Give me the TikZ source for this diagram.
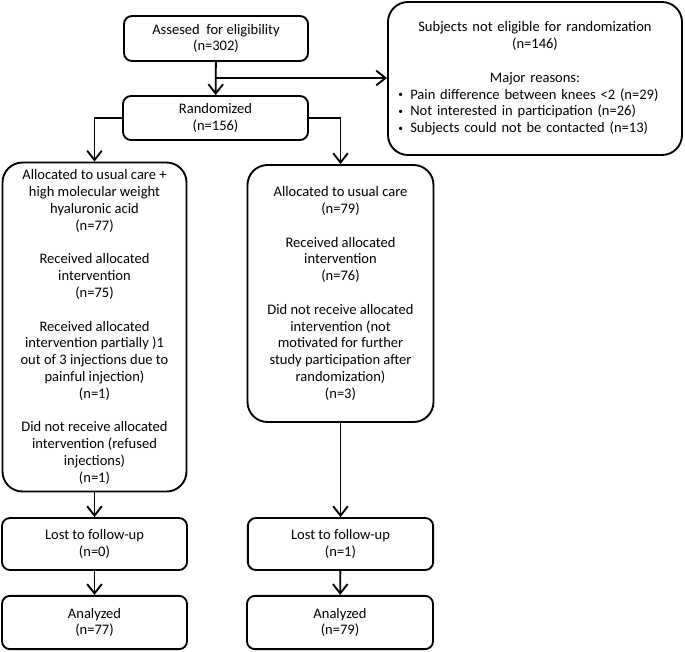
\documentclass[tikz,border=0pt]{standalone}
\usepackage{fontspec}
\setmainfont{Carlito}
\usetikzlibrary{arrows.meta}

\begin{document}
\begin{tikzpicture}[x = 0.75pt, y = -0.75pt]

\tikzset{
smallbox/.style = {rectangle, rounded corners = 6pt, draw, line width = 1.4pt, align = center, inner sep = 2pt, font = \fontsize{10.9}{12.6}\selectfont},
bigbox/.style = {smallbox, rounded corners = 15pt},
flow/.style = {-{Straight Barb[length = 7pt, width = 11pt]}, line width = 1.4pt},
	}

\useasboundingbox (0, 0) rectangle (685, 651);

% Enrolment
\node at (216, 38.5) [smallbox, minimum width = 138pt, minimum height = 33.75pt] (assess) {Assesed~ for eligibility\\(n=302)};
\node at (535, 78.5) [bigbox, minimum width = 220.5pt, minimum height = 114.75pt, text width = 205pt, align = left] (excluded) {%
\centerline{Subjects not eligible for randomization}
\centerline{(n=146)}
\centerline{}
\centerline{Major reasons:}
\raisebox{0.2ex}{\scriptsize\textbullet}\enspace Pain difference between knees <2 (n=29)\\
\raisebox{0.2ex}{\scriptsize\textbullet}\enspace Not interested in participation (n=26)\\
\raisebox{0.2ex}{\scriptsize\textbullet}\enspace Subjects could not be contacted (n=13)};
\node at (215.5, 118) [smallbox, minimum width = 138.75pt, minimum height = 33pt] (rand) {Randomized\\(n=156)};

% Allocation
\node at (94.5, 327) [bigbox, minimum width = 138pt, minimum height = 246.75pt] (hyal) {Allocated to usual care +\\high molecular weight\\hyaluronic acid\\(n=77)\\[12.6pt]Received allocated\\intervention\\(n=75)\\[12.6pt]Received allocated\\intervention partially )1\\out of 3 injections due to\\painful injection)\\(n=1)\\[12.6pt]Did not receive allocated\\intervention (refused\\injections)\\(n=1)};
\node at (340.5, 293.5) [bigbox, minimum width = 139.5pt, minimum height = 192.75pt] (usual) {Allocated to usual care\\(n=79)\\[12.6pt]Received allocated\\intervention\\(n=76)\\[12.6pt]Did not receive allocated\\intervention (not\\motivated for further\\study participation after\\randomization)\\(n=3)};

% Follow-up
\node at (94.5, 544) [smallbox, minimum width = 138.75pt, minimum height = 39pt] (lostA) {Lost to follow-up\\(n=0)};
\node at (340.5, 544) [smallbox, minimum width = 139pt, minimum height = 39pt] (lostB) {Lost to follow-up\\(n=1)};

% Analysis
\node at (94.5, 622.5) [smallbox, minimum width = 138.75pt, minimum height = 40pt] (analA) {Analyzed\\(n=77)};
\node at (340, 622.5) [smallbox, minimum width = 139.5pt, minimum height = 40pt] (analB) {Analyzed\\(n=79)};

% Flow
\coordinate (split) at (216, 78);
\path [flow] (assess) edge [] (rand);
\path [flow] (split) edge [] (excluded.west |- split);
\draw [flow] (rand.west) -| (hyal.north);
\draw [flow] (rand.east) -| (usual.north);
\path [flow] (hyal) edge [] (lostA);
\path [flow] (usual) edge [] (lostB);
\path [flow] (lostA) edge [] (analA);
\path [flow] (lostB) edge [] (analB);

\end{tikzpicture}
\end{document}
